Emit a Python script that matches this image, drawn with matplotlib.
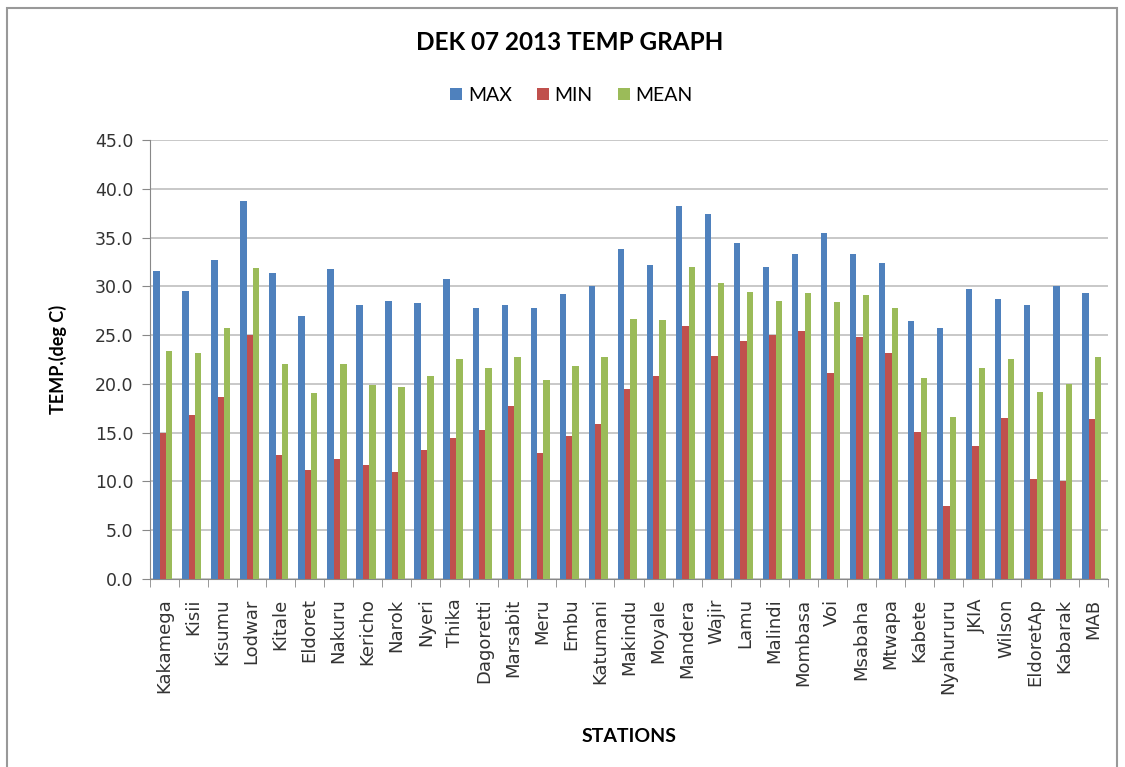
import numpy as np
import matplotlib
matplotlib.use("Agg")
import matplotlib.pyplot as plt
from matplotlib.patches import Rectangle

# station data
stations = ["Kakamega", "Kisii", "Kisumu", "Lodwar", "Kitale", "Eldoret", "Nakuru",
            "Kericho", "Narok", "Nyeri", "Thika", "Dagoretti", "Marsabit", "Meru",
            "Embu", "Katumani", "Makindu", "Moyale", "Mandera", "Wajir", "Lamu",
            "Malindi", "Mombasa", "Voi", "Msabaha", "Mtwapa", "Kabete", "Nyahururu",
            "JKIA", "Wilson", "EldoretAp", "Kabarak", "MAB"]
t_max = [31.6, 29.5, 32.7, 38.7, 31.4, 27.0, 31.8, 28.1, 28.5, 28.3, 30.7, 27.8,
         28.1, 27.8, 29.2, 30.0, 33.8, 32.2, 38.2, 37.4, 34.4, 32.0, 33.3, 35.5,
         33.3, 32.4, 26.4, 25.7, 29.7, 28.7, 28.1, 30.0, 29.3]
t_min = [15.0, 16.8, 18.7, 25.0, 12.7, 11.2, 12.3, 11.7, 11.0, 13.2, 14.5, 15.3,
         17.7, 12.9, 14.7, 15.9, 19.5, 20.8, 25.9, 22.9, 24.4, 25.0, 25.4, 21.1,
         24.8, 23.2, 15.1, 7.5, 13.6, 16.5, 10.2, 10.0, 16.4]
t_mean = [23.4, 23.2, 25.7, 31.9, 22.0, 19.1, 22.0, 19.9, 19.7, 20.8, 22.6, 21.6,
          22.8, 20.4, 21.8, 22.8, 26.7, 26.5, 32.0, 30.3, 29.4, 28.5, 29.3, 28.4,
          29.1, 27.8, 20.6, 16.6, 21.6, 22.6, 19.2, 20.0, 22.8]

series = [("MAX", t_max, "#4F81BD"), ("MIN", t_min, "#C0504D"), ("MEAN", t_mean, "#9BBB59")]

head = ["Lato", "DejaVu Sans"]

fig = plt.figure(figsize=(11.25, 7.67), dpi=100)
ax = fig.add_axes([0.1333, 0.2451, 0.8516, 0.5724])

x = np.arange(len(stations))
w = 0.22
for i, (name, vals, col) in enumerate(series):
    ax.bar(x + (i - 1) * w - 0.06, vals, width=w, color=col, label=name, zorder=3)

ax.set_xlim(-0.5, len(stations) - 0.5)
ax.set_ylim(0, 45)
ax.set_yticks(np.arange(0, 46, 5))
ax.set_yticklabels([f"{v:.1f}" for v in np.arange(0, 46, 5)], fontsize=12.5, color="#333333")
ax.set_xticks(x)
ax.set_xticklabels(stations, rotation=90, fontsize=13, color="#333333")
ax.tick_params(axis="x", length=0, pad=14)
ax.set_xticks(np.arange(-0.5, len(stations)), minor=True)
ax.tick_params(axis="x", which="minor", length=6, color="#888888")
ax.tick_params(axis="y", length=6, color="#888888", pad=6)
ax.grid(axis="y", color="#C4C4C4", linewidth=1.3, zorder=0)
for s in ["top", "right"]:
    ax.spines[s].set_visible(False)
for s in ["left", "bottom"]:
    ax.spines[s].set_color("#888888")

ax.set_ylabel("TEMP.(deg C)", fontsize=13, fontweight="bold", labelpad=20, family=head)
ax.set_xlabel("STATIONS", fontsize=14, fontweight="bold", labelpad=24, family=head)

fig.text(0.506, 0.944, "DEK 07 2013 TEMP GRAPH", ha="center", va="center",
         fontsize=17.5, fontweight="bold", family=head)
fig.legend(loc="center", bbox_to_anchor=(0.508, 0.876), ncol=3, frameon=False,
           prop={"family": head, "size": 14},
           handlelength=0.6, handleheight=0.6, handletextpad=0.3, columnspacing=1.3)

fig.patches.append(Rectangle((0.006, -0.01), 0.987, 1.0, transform=fig.transFigure,
                             fill=False, edgecolor="#999999", linewidth=1.5))

fig.savefig("out.png", dpi=100)
